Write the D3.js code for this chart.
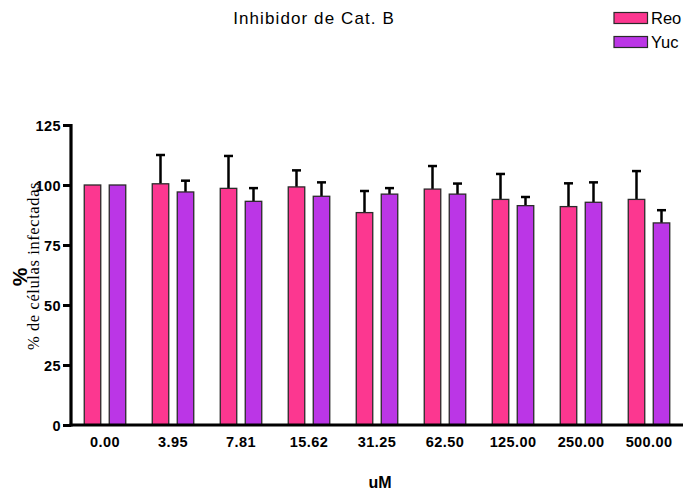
<!DOCTYPE html>
<html>
<head>
<meta charset="utf-8">
<script src="https://cdn.jsdelivr.net/npm/d3@7"></script>
<style>
  html, body { margin: 0; padding: 0; background: #fff; }
  svg { display: block; }
</style>
</head>
<body>
<svg id="chart" width="683" height="492"></svg>
<script>
// Inhibitor concentrations (uM)
const categories = ["0.00", "3.95", "7.81", "15.62", "31.25", "62.50", "125.00", "250.00", "500.00"];
const seriesNames = ["Reo", "Yuc"];
// Mean % infected cells and SD for each series
const reoValues = [100, 100.5, 98.6, 99.2, 88.5, 98.3, 94.0, 91.0, 94.0];
const reoErrors = [0, 12.0, 13.5, 6.9, 9.0, 9.6, 10.6, 9.7, 11.8];
const yucValues = [100, 97.1, 93.2, 95.3, 96.2, 96.2, 91.4, 92.8, 84.2];
const yucErrors = [0, 4.7, 5.5, 5.8, 2.5, 4.4, 3.6, 8.3, 5.3];
const yTicks = [0, 25, 50, 75, 100, 125];

const colors = { Reo: "#fc3790", Yuc: "#bb36e6" };
const sans = "Liberation Sans, Arial, sans-serif";

const svg = d3.select("#chart");
const margin = { left: 71, right: 0, top: 125, bottom: 67 };
const W = 683, H = 492;

const x = d3.scaleBand().domain(categories).range([margin.left, W - margin.right]).padding(0);
const y = d3.scaleLinear().domain([0, 125]).range([H - margin.bottom, margin.top]);
const barW = 16.5, offset = 12.5;

const rows = [];
categories.forEach((c, i) => {
  rows.push({ cat: c, s: "Reo", v: reoValues[i], e: reoErrors[i], dx: -offset });
  rows.push({ cat: c, s: "Yuc", v: yucValues[i], e: yucErrors[i], dx: offset });
});

// error bars (upper only)
const eb = svg.append("g");
rows.filter(d => d.e > 0).forEach(d => {
  const cx = x(d.cat) + x.bandwidth() / 2 + d.dx;
  eb.append("line").attr("x1", cx).attr("x2", cx)
    .attr("y1", y(d.v)).attr("y2", y(d.v + d.e))
    .attr("stroke", "#000").attr("stroke-width", 2.5);
  eb.append("line").attr("x1", cx - 4.5).attr("x2", cx + 4.5)
    .attr("y1", y(d.v + d.e)).attr("y2", y(d.v + d.e))
    .attr("stroke", "#000").attr("stroke-width", 2.5);
});

// bars
svg.append("g").selectAll("rect").data(rows).join("rect")
  .attr("x", d => x(d.cat) + x.bandwidth() / 2 + d.dx - barW / 2)
  .attr("y", d => y(d.v))
  .attr("width", barW)
  .attr("height", d => y(0) - y(d.v))
  .attr("fill", d => colors[d.s])
  .attr("stroke", "#2a2a2a")
  .attr("stroke-width", 1.3);

// y axis
const yAxis = svg.append("g").attr("transform", `translate(${margin.left},0)`)
  .call(d3.axisLeft(y).tickValues(yTicks).tickSize(8).tickPadding(2).tickFormat(d3.format("d")));
yAxis.select(".domain").attr("stroke", "#000").attr("stroke-width", 3.2)
  .attr("d", `M0,${y(125) - 1}V${y(0) + 1.5}`);
yAxis.selectAll(".tick line").attr("stroke", "#000").attr("stroke-width", 3);
yAxis.selectAll(".tick text").attr("fill", "#000")
  .style("font-family", sans).style("font-weight", "bold")
  .style("font-size", "14.5px").style("letter-spacing", "0.4px").attr("dy", "0.36em");

// x axis
const xAxis = svg.append("g").attr("transform", `translate(0,${y(0)})`)
  .call(d3.axisBottom(x).tickSize(0).tickPadding(12));
xAxis.select(".domain").attr("stroke", "#000").attr("stroke-width", 3.2)
  .attr("d", `M${margin.left - 1.5},0H${W}`);
xAxis.selectAll(".tick text").attr("fill", "#000")
  .style("font-family", sans).style("font-weight", "bold")
  .style("font-size", "14.5px").style("letter-spacing", "0.4px");

// axis titles
svg.append("text").attr("x", 380).attr("y", 488).attr("text-anchor", "middle")
  .style("font-family", sans).style("font-weight", "bold").style("font-size", "16px").text("uM");

svg.append("text").attr("transform", "translate(27,277) rotate(-90)").attr("text-anchor", "middle")
  .style("font-family", sans).style("font-weight", "bold").style("font-size", "21px").text("%");

svg.append("text").attr("transform", "translate(39,266) rotate(-90)").attr("text-anchor", "middle")
  .style("font-family", "Liberation Serif, Times New Roman, serif")
  .style("font-size", "16.5px").style("letter-spacing", "0.6px").text("% de células infectadas");

// title
svg.append("text").attr("x", 314).attr("y", 24).attr("text-anchor", "middle")
  .style("font-family", sans).style("font-size", "17px").style("letter-spacing", "1.1px")
  .text("Inhibidor de Cat. B");

// legend
const legend = svg.append("g");
seriesNames.forEach((s, i) => {
  const ly = 12.5 + i * 24;
  legend.append("rect").attr("x", 614).attr("y", ly).attr("width", 33.5).attr("height", 11)
    .attr("fill", colors[s]).attr("stroke", "#2a2a2a").attr("stroke-width", 1.2);
  legend.append("text").attr("x", 651).attr("y", ly + 11.5)
    .style("font-family", sans).style("font-size", "16.5px").text(s);
});
</script>
</body>
</html>
